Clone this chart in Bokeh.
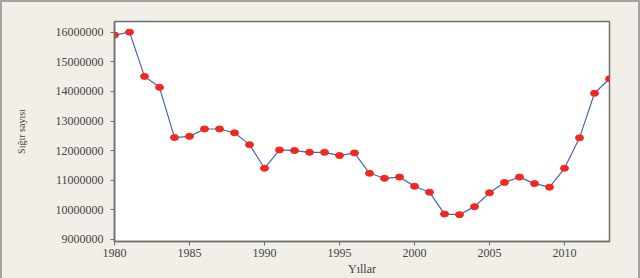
from bokeh.plotting import figure
from bokeh.layouts import column
from bokeh.models import Range1d, FixedTicker, BasicTickFormatter, ColumnDataSource
from bokeh.embed import file_html
from bokeh.resources import INLINE

years = list(range(1980, 2014))
cattle = [15910000, 16010000, 14510000, 14140000, 12440000, 12480000, 12730000,
          12730000, 12600000, 12200000, 11400000, 12020000, 12000000, 11940000,
          11940000, 11830000, 11920000, 11230000, 11060000, 11100000, 10790000,
          10590000, 9850000, 9830000, 10100000, 10570000, 10920000, 11100000,
          10880000, 10760000, 11400000, 12430000, 13940000, 14430000]
x_ticks = [1980, 1985, 1990, 1995, 2000, 2005, 2010]
y_ticks = [9000000, 10000000, 11000000, 12000000, 13000000, 14000000, 15000000, 16000000]

src = ColumnDataSource(dict(x=years, y=cattle))

p = figure(width=636, height=276, output_backend="svg", toolbar_location=None,
           x_range=Range1d(1980, 2013), y_range=Range1d(8920000, 16370000),
           min_border_left=112, min_border_right=29, min_border_top=19, min_border_bottom=37)
p.border_fill_color = "#f1efe7"
p.background_fill_color = "white"
p.outline_line_color = "#707070"
p.outline_line_width = 1.5
p.grid.visible = False

p.line("x", "y", source=src, line_color="#4567b7", line_width=1.2)
p.ellipse("x", "y", width=8, height=6, width_units="screen", height_units="screen",
          source=src, fill_color="#f2281e", line_color="#f2281e")

for ax in (p.xaxis[0], p.yaxis[0]):
    ax.axis_line_color = "#707070"
    ax.axis_line_width = 1.5
    ax.major_tick_line_color = "#707070"
    ax.major_tick_in = 0
    ax.major_tick_out = 4
    ax.minor_tick_line_color = None
    ax.major_label_text_font = "Liberation Serif"
    ax.major_label_text_font_size = "12px"
    ax.major_label_text_color = "#444444"
    ax.axis_label_text_font = "Liberation Serif"
    ax.axis_label_text_font_style = "normal"
    ax.axis_label_text_color = "#444444"

p.xaxis.ticker = FixedTicker(ticks=x_ticks)
p.yaxis.ticker = FixedTicker(ticks=y_ticks)
p.yaxis.formatter = BasicTickFormatter(use_scientific=False)
p.xaxis.major_label_standoff = 3
p.yaxis.major_label_standoff = 7
p.xaxis.axis_label = "Yıllar"
p.xaxis.axis_label_text_font_size = "12px"
p.xaxis.axis_label_standoff = 2
p.yaxis.axis_label = "Sığır sayısı"
p.yaxis.axis_label_text_font_size = "10px"
p.yaxis.axis_label_standoff = 26

layout = column(p, styles={"border-top": "2px solid #a4a4a4",
                           "border-left": "2px solid #a4a4a4",
                           "border-right": "2px solid #a4a4a4",
                           "background-color": "#f1efe7"})

open("out.html", "w").write(file_html(layout, INLINE))
